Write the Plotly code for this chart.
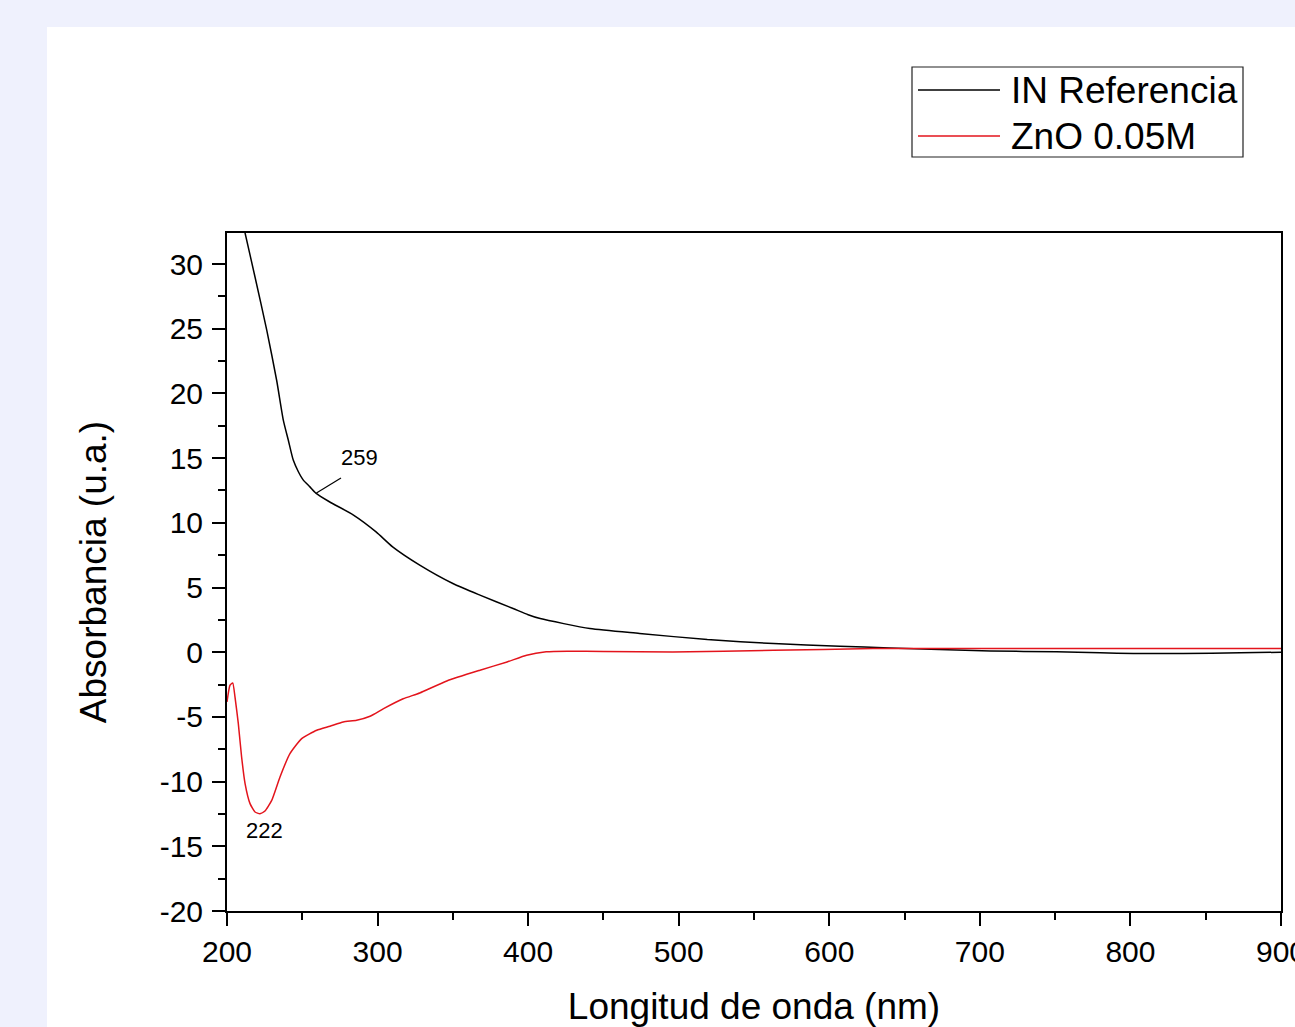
import plotly.graph_objects as go

# ---- data ----
ref_x = [205, 212, 218.6, 226.4, 233, 237.4, 240.7, 244, 247.4, 250.7, 255.1, 259, 268, 284,
         299, 310, 328, 350, 368, 390, 400, 408, 441, 474, 519, 563, 607, 640, 673, 707,
         751, 780, 802, 835, 873, 900]
ref_y = [36.0, 32.4, 29.0, 24.9, 21.0, 17.94, 16.4, 14.85, 13.95, 13.3, 12.78, 12.3, 11.63, 10.6,
         9.3, 8.14, 6.73, 5.31, 4.41, 3.38, 2.9, 2.6, 1.83, 1.45, 0.98, 0.67, 0.46, 0.33, 0.21, 0.1,
         0.03, -0.05, -0.1, -0.1, -0.05, 0.0]

zno_x = [200, 202, 203.8, 205.3, 207.5, 209.7, 212, 215.3, 218.6, 221.9, 225.2, 229.7, 235.2,
         241.8, 249.6, 259.6, 268.4, 277.2, 286.1, 295, 304, 317, 328, 346, 368, 386, 399,
         412, 426, 450, 496, 563, 629, 680, 750, 820, 900]
zno_y = [-3.84, -2.55, -2.37, -3.45, -5.5, -8.1, -10.15, -11.7, -12.35, -12.48, -12.27, -11.45,
         -9.64, -7.84, -6.68, -6.03, -5.72, -5.39, -5.26, -4.95, -4.36, -3.6, -3.15, -2.22,
         -1.39, -0.75, -0.23, 0.03, 0.08, 0.05, 0.02, 0.15, 0.28, 0.28, 0.28, 0.28, 0.28]

series_names = ["IN Referencia", "ZnO 0.05M"]
series_colors = ["#000000", "#e3141c"]

x_ticks = [200, 300, 400, 500, 600, 700, 800, 900]
y_ticks = [-20, -15, -10, -5, 0, 5, 10, 15, 20, 25, 30]

peak_ref = (259, 12.3)
peak_zno = (222, -12.48)

FONT = "Liberation Sans, Arial, sans-serif"

fig = go.Figure()
fig.add_trace(go.Scatter(x=ref_x, y=ref_y, mode="lines", name=series_names[0],
                         line=dict(color=series_colors[0], width=1.5, shape="spline", smoothing=0.6)))
fig.add_trace(go.Scatter(x=zno_x, y=zno_y, mode="lines", name=series_names[1],
                         line=dict(color=series_colors[1], width=1.5, shape="spline", smoothing=0.5)))

L, R, T, B = 227, 14, 233, 116
W, H = 1295, 1027
pw, ph = W - L - R, H - T - B

def px(xp):
    return (xp - L) / pw

def py(yp):
    return (H - B - yp) / ph

shapes = []
# white page panel
shapes.append(dict(type="rect", xref="paper", yref="paper", layer="below",
                   x0=px(47), x1=px(1300), y0=py(1040), y1=py(27),
                   fillcolor="white", line=dict(width=0)))
# legend box
shapes.append(dict(type="rect", xref="paper", yref="paper",
                   x0=px(912), x1=px(1243), y0=py(157), y1=py(67),
                   fillcolor="rgba(0,0,0,0)", line=dict(color="#222", width=1.2)))
shapes.append(dict(type="line", xref="paper", yref="paper",
                   x0=px(918), x1=px(1000), y0=py(90), y1=py(90),
                   line=dict(color=series_colors[0], width=1.3)))
shapes.append(dict(type="line", xref="paper", yref="paper",
                   x0=px(918), x1=px(1000), y0=py(136), y1=py(136),
                   line=dict(color=series_colors[1], width=1.3)))
# leader line for 259 peak
shapes.append(dict(type="line", xref="x", yref="y",
                   x0=peak_ref[0] + 0.4, y0=peak_ref[1], x1=275.7, y1=13.46,
                   line=dict(color="black", width=1.2)))

annotations = [
    dict(xref="paper", yref="paper", x=px(1009), y=py(90), xanchor="left", yanchor="middle",
         text=series_names[0], showarrow=False, font=dict(family=FONT, size=37, color="black")),
    dict(xref="paper", yref="paper", x=px(1009), y=py(136), xanchor="left", yanchor="middle",
         text=series_names[1], showarrow=False, font=dict(family=FONT, size=37, color="black")),
    dict(xref="x", yref="y", x=288.3, y=15.08, text=str(peak_ref[0]), showarrow=False,
         font=dict(family=FONT, size=22, color="black")),
    dict(xref="x", yref="y", x=225.2, y=-13.77, text=str(peak_zno[0]), showarrow=False,
         font=dict(family=FONT, size=22, color="black")),
]

fig.update_layout(
    width=W, height=H,
    margin=dict(l=L, r=R, t=T, b=B, autoexpand=False),
    paper_bgcolor="#eff1fd",
    plot_bgcolor="white",
    showlegend=False,
    shapes=shapes,
    annotations=annotations,
    font=dict(family=FONT, color="black"),
    xaxis=dict(range=[200, 900], tickvals=x_ticks, ticktext=[str(v) for v in x_ticks],
               automargin=False, ticklabeloverflow="allow",
               showgrid=False, zeroline=False, showline=True, mirror=True,
               linecolor="black", linewidth=2, ticks="outside", ticklen=13, tickwidth=2,
               tickcolor="black", tickfont=dict(size=30, family=FONT),
               minor=dict(dtick=50, tick0=200, ticks="outside", ticklen=7, tickwidth=2,
                          tickcolor="black", showgrid=False),
               title=dict(text="Longitud de onda (nm)", font=dict(size=37, family=FONT),
                          standoff=28)),
    yaxis=dict(range=[-20, 32.4], tickvals=y_ticks, ticktext=[str(v) for v in y_ticks],
               automargin=False,
               showgrid=False, zeroline=False, showline=True, mirror=True,
               linecolor="black", linewidth=2, ticks="outside", ticklen=13, tickwidth=2,
               tickcolor="black", tickfont=dict(size=30, family=FONT), ticklabelstandoff=3,
               minor=dict(dtick=2.5, tick0=0, ticks="outside", ticklen=7, tickwidth=2,
                          tickcolor="black", showgrid=False),
               title=dict(text="Absorbancia (u.a.)", font=dict(size=37, family=FONT),
                          standoff=42)),
)

fig.write_html("out.html", config={"displayModeBar": False},
               post_script="document.body.style.margin='0px';document.body.style.overflow='hidden';")
